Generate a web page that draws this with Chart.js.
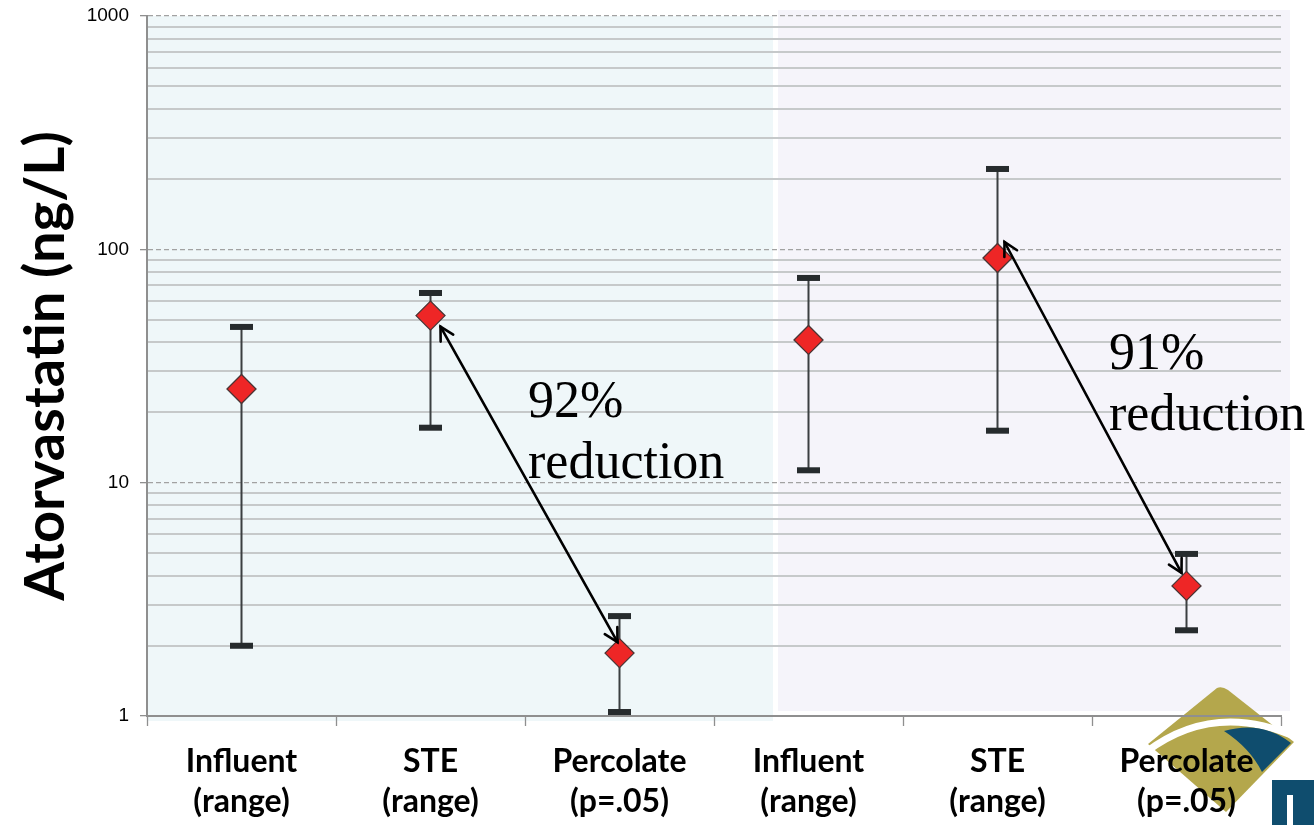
<!DOCTYPE html>
<html>
<head>
<meta charset="utf-8">
<script src="https://cdn.jsdelivr.net/npm/chart.js@4.4.1/dist/chart.umd.min.js"></script>
<style>
  html, body { margin: 0; padding: 0; background: #fff; }
  #wrap { width: 1314px; height: 825px; position: relative; }
</style>
</head>
<body>
<div id="wrap"><canvas id="atorva" width="1314" height="825"></canvas></div>
<script>
// Data
const categories = [
    ['Influent', '(range)'], ['STE', '(range)'], ['Percolate', '(p=.05)'],
    ['Influent', '(range)'], ['STE', '(range)'], ['Percolate', '(p=.05)']
];
const means = [25.2, 52, 1.86, 40.9, 91.8, 3.61];
const lows  = [2.0, 17.2, 1.04, 11.3, 16.7, 2.33];
const highs = [46.5, 65, 2.68, 75.4, 221, 4.95];
const yTicks = [1, 2, 3, 4, 5, 6, 7, 8, 9,
                10, 20, 30, 40, 50, 60, 70, 80, 90,
                100, 200, 300, 400, 500, 600, 700, 800, 900, 1000];
const majorTicks = [1, 10, 100, 1000];

// reduction arrows: from STE point to Percolate point (indices), pixel nudges at each end
const reductions = [
    { from: 1, to: 2, label: ['92%', 'reduction'], fromNudge: [10, 11], toNudge: [-2, -11], textX: 528, textY: 417 },
    { from: 4, to: 5, label: ['91%', 'reduction'], fromNudge: [7, -16], toNudge: [-5, -13], textX: 1109, textY: 369 }
];

const isMajor = v => majorTicks.indexOf(v) !== -1;

// Backgrounds from the two slide panels + partial logo
const panelPlugin = {
    id: 'panels',
    beforeDraw(chart) {
        const ctx = chart.ctx;
        ctx.save();
        ctx.fillStyle = '#eff7f9';
        ctx.fillRect(147, 16, 626, 705);
        ctx.fillStyle = '#f5f4fa';
        ctx.fillRect(778, 10, 512, 701);

        // logo (gold diamond + blue band)
        ctx.fillStyle = '#b4a74c';
        ctx.beginPath();
        ctx.moveTo(1217, 688);
        ctx.quadraticCurveTo(1222, 686, 1228, 690);
        ctx.lineTo(1294, 742);
        ctx.lineTo(1226, 812);
        ctx.lineTo(1148, 744);
        ctx.closePath();
        ctx.fill();
        ctx.strokeStyle = '#ffffff';
        ctx.lineWidth = 7;
        ctx.beginPath();
        ctx.moveTo(1146, 752);
        ctx.quadraticCurveTo(1215, 700, 1298, 738);
        ctx.stroke();
        ctx.fillStyle = '#0f4d6e';
        ctx.beginPath();
        ctx.moveTo(1224, 731);
        ctx.quadraticCurveTo(1262, 720, 1291, 743);
        ctx.lineTo(1262, 772);
        ctx.quadraticCurveTo(1250, 748, 1224, 731);
        ctx.closePath();
        ctx.fill();
        ctx.fillRect(1272, 780, 42, 45);
        ctx.fillStyle = '#ffffff';
        ctx.fillRect(1287, 795, 6, 30);
        ctx.restore();
    }
};

// Range bars drawn through the scales
const rangePlugin = {
    id: 'ranges',
    beforeDatasetsDraw(chart) {
        const ctx = chart.ctx;
        const x = chart.scales.x, y = chart.scales.y;
        ctx.save();
        for (let i = 0; i < means.length; i++) {
            const px = x.getPixelForValue(i);
            const top = y.getPixelForValue(highs[i]);
            const bot = y.getPixelForValue(lows[i]);
            ctx.strokeStyle = '#3b3f41';
            ctx.lineWidth = 2;
            ctx.beginPath();
            ctx.moveTo(px, top);
            ctx.lineTo(px, bot);
            ctx.stroke();
            ctx.fillStyle = '#262b2d';
            ctx.fillRect(px - 11.5, top - 3, 23, 6);
            ctx.fillRect(px - 11.5, bot - 3, 23, 6);
        }
        ctx.restore();
    },
    afterDatasetsDraw(chart) {
        const ctx = chart.ctx;
        const x = chart.scales.x, y = chart.scales.y;
        ctx.save();
        ctx.strokeStyle = '#000';
        ctx.fillStyle = '#000';
        ctx.lineWidth = 2.6;
        ctx.lineCap = 'round';
        reductions.forEach(function (r) {
            const x1 = x.getPixelForValue(r.from) + r.fromNudge[0];
            const y1 = y.getPixelForValue(means[r.from]) + r.fromNudge[1];
            const x2 = x.getPixelForValue(r.to) + r.toNudge[0];
            const y2 = y.getPixelForValue(means[r.to]) + r.toNudge[1];
            ctx.beginPath();
            ctx.moveTo(x1, y1);
            ctx.lineTo(x2, y2);
            ctx.stroke();
            const heads = [[x1, y1, Math.atan2(y1 - y2, x1 - x2)], [x2, y2, Math.atan2(y2 - y1, x2 - x1)]];
            heads.forEach(function (h) {
                const len = 15, spread = 0.5;
                ctx.beginPath();
                ctx.moveTo(h[0] - len * Math.cos(h[2] - spread), h[1] - len * Math.sin(h[2] - spread));
                ctx.lineTo(h[0], h[1]);
                ctx.lineTo(h[0] - len * Math.cos(h[2] + spread), h[1] - len * Math.sin(h[2] + spread));
                ctx.stroke();
            });
            ctx.font = '52px "Liberation Serif", "Times New Roman", serif';
            ctx.textBaseline = 'alphabetic';
            ctx.textAlign = 'left';
            ctx.fillText(r.label[0], r.textX, r.textY);
            ctx.fillText(r.label[1], r.textX, r.textY + 61);
        });
        ctx.restore();
    }
};

const ctx = document.getElementById('atorva').getContext('2d');
const chart = new Chart(ctx, {
    type: 'line',
    data: {
        labels: categories,
        datasets: [{
            label: 'Atorvastatin',
            data: means,
            showLine: false,
            pointStyle: 'rectRot',
            pointRadius: 14.5,
            pointHoverRadius: 14.5,
            pointBackgroundColor: '#ee2626',
            pointBorderColor: '#4a3434',
            pointBorderWidth: 1.3
        }]
    },
    options: {
        responsive: false,
        animation: false,
        devicePixelRatio: 1,
        layout: { padding: { top: 16, right: 33, left: 0, bottom: 0 } },
        plugins: {
            legend: { display: false },
            tooltip: { enabled: false }
        },
        scales: {
            x: {
                type: 'category',
                offset: true,
                afterFit(scale) { scale.height = 109; },
                grid: {
                    offset: true,
                    drawOnChartArea: false,
                    tickLength: 10,
                    tickColor: '#8f8f8f',
                    tickWidth: 1.3
                },
                border: { color: '#8f8f8f', width: 2 },
                ticks: {
                    color: '#000',
                    padding: 16,
                    maxRotation: 0,
                    autoSkip: false,
                    font: { family: 'Lato, "Open Sans", sans-serif', size: 32, weight: 'bold', lineHeight: 1.24 }
                }
            },
            y: {
                type: 'logarithmic',
                min: 1,
                max: 1000,
                afterFit(scale) {
                    scale.width = 147;
                    scale.paddingTop = 0;
                    scale.paddingBottom = 0;
                },
                afterBuildTicks(scale) {
                    scale.ticks = yTicks.map(v => ({ value: v, major: isMajor(v) }));
                },
                title: {
                    display: true,
                    text: 'Atorvastatin (ng/L)',
                    color: '#000',
                    padding: { top: 12, bottom: 0 },
                    font: { family: 'Lato, "Open Sans", sans-serif', size: 56, weight: 'bold' }
                },
                grid: {
                    color: c => (c.tick && isMajor(c.tick.value)) ? '#a2a2a2' : '#c6c9ca',
                    lineWidth: c => (c.tick && isMajor(c.tick.value)) ? 1.3 : 2,
                    tickLength: 7,
                    tickColor: c => (c.tick && isMajor(c.tick.value)) ? '#8f8f8f' : 'rgba(0,0,0,0)',
                    tickWidth: 1.3
                },
                border: {
                    color: '#8f8f8f',
                    width: 2,
                    dash: c => (c.tick && isMajor(c.tick.value) && c.tick.value !== 1) ? [5, 3] : []
                },
                ticks: {
                    autoSkip: false,
                    color: '#000',
                    padding: 11,
                    font: { family: '"Liberation Sans", Arial, sans-serif', size: 19 },
                    callback: v => isMajor(v) ? String(v) : ''
                }
            }
        }
    },
    plugins: [panelPlugin, rangePlugin]
});
</script>
</body>
</html>
